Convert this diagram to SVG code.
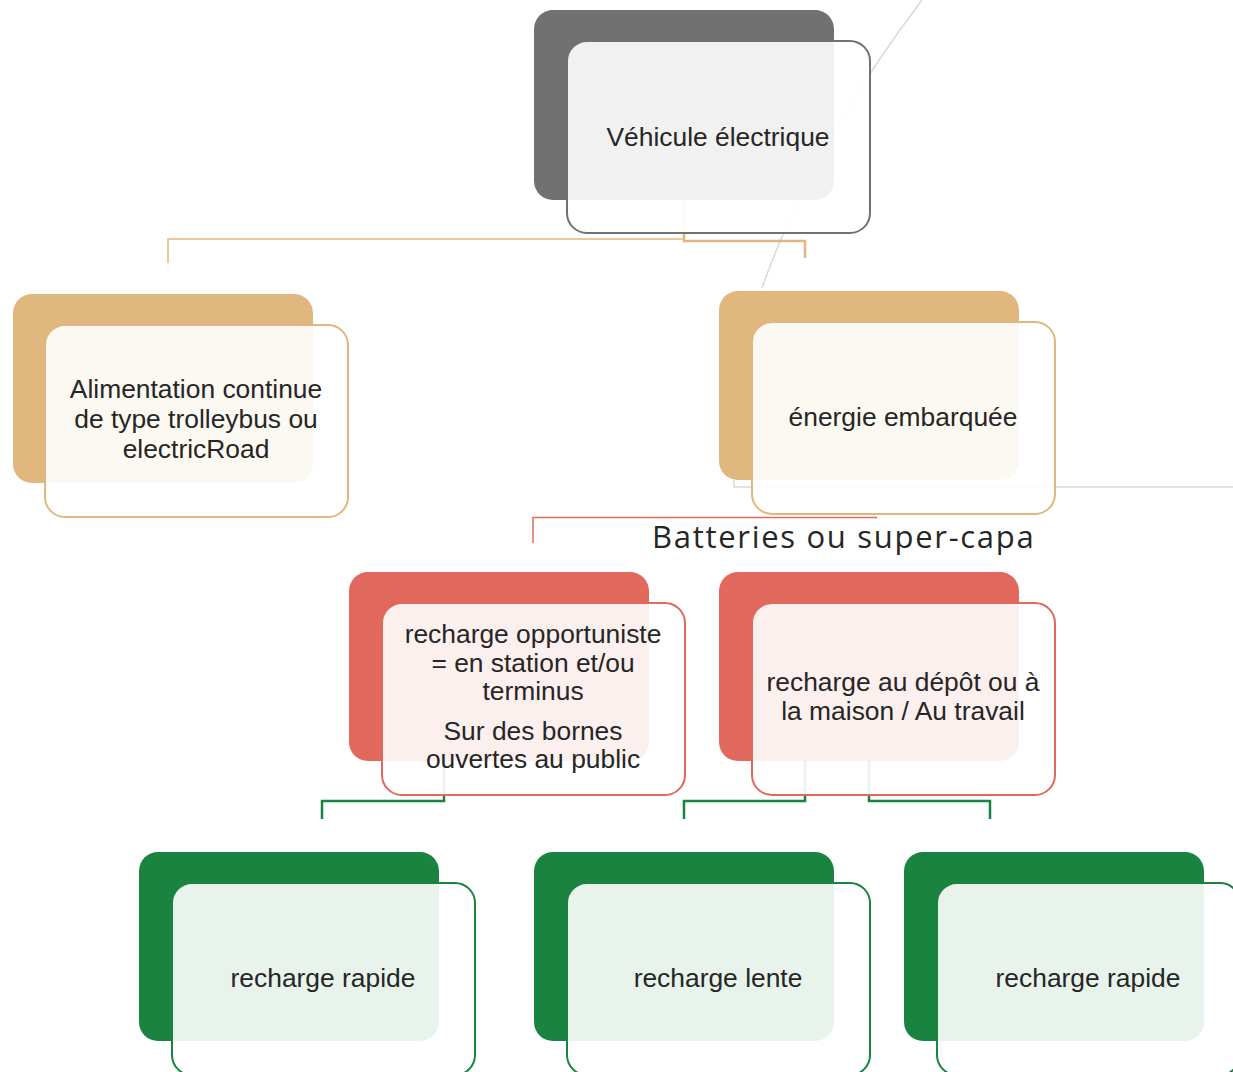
<svg xmlns="http://www.w3.org/2000/svg" width="1233" height="1072" viewBox="0 0 1233 1072">
<style>
  .bg{stroke:none}
  .fr{fill:#ffffff;fill-opacity:0.9;stroke-width:2}
  .t{font-family:"Liberation Sans",Arial,sans-serif;font-size:26.4px;fill:#262626;text-anchor:middle}
  .grey .bg{fill:#717171} .grey .fr{stroke:#717171}
  .tan .bg{fill:#dfb77f} .tan .fr{stroke:#dfb77f}
  .red .bg{fill:#e0685c} .red .fr{stroke:#e0685c}
  .green .bg{fill:#1a833f} .green .fr{stroke:#1a833f}
  .c{fill:none;stroke-linejoin:miter}
</style>
<rect width="1233" height="1072" fill="#ffffff"/>
<g id="decor" fill="none" stroke="#d9d9d9" stroke-width="1.5">
  <path d="M922,0 Q813,144 762,288"/>
  <path d="M734,480 V487 H1233"/>
</g>
<g id="connectors" class="c">
  <path d="M684,200 V239 H168 V263" stroke="#e2b67c" stroke-width="1.5" fill="none"/>
  <path d="M684,200 V241 H805 V258" stroke="#dfb77f" stroke-width="2.5" fill="none"/>
  <path d="M877,517.5 H533 V543" stroke="#e0685c" stroke-width="1.5" fill="none"/>
  <path d="M444,760 V801 H322 V819" stroke="#1a833f" stroke-width="2.5" fill="none"/>
  <path d="M805,761 V801 H684 V819" stroke="#1a833f" stroke-width="2.5" fill="none"/>
  <path d="M869,761 V801 H990 V819" stroke="#1a833f" stroke-width="2.5" fill="none"/>
</g>
<g id="node-vehicule" class="grey">
  <rect class="bg" x="534" y="10" width="300" height="190" rx="19"/>
  <rect class="fr" x="567" y="41" width="303" height="192" rx="20"/>
  <text class="t" x="718" y="146">Véhicule électrique</text>
</g>
<g id="node-alimentation" class="tan">
  <rect class="bg" x="13" y="294" width="300" height="189" rx="19"/>
  <rect class="fr" x="45" y="325" width="303" height="192" rx="20"/>
  <text class="t" x="196" y="398">Alimentation continue</text>
  <text class="t" x="196" y="428">de type trolleybus ou</text>
  <text class="t" x="196" y="457.5">electricRoad</text>
</g>
<g id="node-energie" class="tan">
  <rect class="bg" x="719" y="291" width="300" height="189" rx="19"/>
  <rect class="fr" x="752" y="322" width="303" height="192" rx="20"/>
  <text class="t" x="903" y="426">énergie embarquée</text>
</g>
<g id="label-batteries">
  <text x="652" y="548" font-family="'Open Sans','Noto Sans',sans-serif" font-size="31" letter-spacing="1.7" fill="#262626">Batteries ou super-capa</text>
</g>
<g id="node-opportuniste" class="red">
  <rect class="bg" x="349" y="572" width="300" height="189" rx="19"/>
  <rect class="fr" x="382" y="603" width="303" height="192" rx="20"/>
  <text class="t" x="533" y="643">recharge opportuniste</text>
  <text class="t" x="533" y="672">= en station et/ou</text>
  <text class="t" x="533" y="700">terminus</text>
  <text class="t" x="533" y="740">Sur des bornes</text>
  <text class="t" x="533" y="768">ouvertes au public</text>
</g>
<g id="node-depot" class="red">
  <rect class="bg" x="719" y="572" width="300" height="189" rx="19"/>
  <rect class="fr" x="752" y="603" width="303" height="192" rx="20"/>
  <text class="t" x="903" y="691">recharge au dépôt ou à</text>
  <text class="t" x="903" y="720">la maison / Au travail</text>
</g>
<g id="node-rapide1" class="green">
  <rect class="bg" x="139" y="852" width="300" height="189" rx="19"/>
  <rect class="fr" x="172" y="883" width="303" height="192" rx="20"/>
  <text class="t" x="323" y="987">recharge rapide</text>
</g>
<g id="node-lente" class="green">
  <rect class="bg" x="534" y="852" width="300" height="189" rx="19"/>
  <rect class="fr" x="567" y="883" width="303" height="192" rx="20"/>
  <text class="t" x="718" y="987">recharge lente</text>
</g>
<g id="node-rapide2" class="green">
  <rect class="bg" x="904" y="852" width="300" height="189" rx="19"/>
  <rect class="fr" x="937" y="883" width="303" height="192" rx="20"/>
  <text class="t" x="1088" y="987">recharge rapide</text>
</g>
</svg>
